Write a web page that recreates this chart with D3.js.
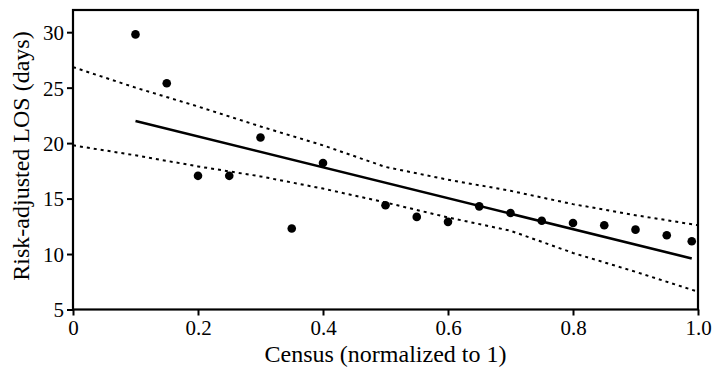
<!DOCTYPE html>
<html>
<head>
<meta charset="utf-8">
<script src="https://cdn.jsdelivr.net/npm/d3@7"></script>
<style>
  body { margin: 0; background: #fff; }
  text { font-family: "Liberation Serif", "Times New Roman", serif; fill: #000; }
</style>
</head>
<body>
<script>
// census (normalized) vs risk-adjusted LOS
const census = [0.1, 0.15, 0.2, 0.25, 0.3, 0.35, 0.4, 0.5, 0.55, 0.6, 0.65, 0.7, 0.75, 0.8, 0.85, 0.9, 0.95, 0.99];
const los = [29.8, 25.4, 17.05, 17.05, 20.5, 12.3, 18.2, 14.4, 13.35, 12.9, 14.3, 13.7, 13.0, 12.8, 12.6, 12.2, 11.7, 11.15];

// regression line endpoints
const fitX = [0.1, 0.99];
const fitY = [22.0, 9.6];

// confidence band
const bandX = [0, 0.1, 0.2, 0.3, 0.4, 0.5, 0.6, 0.7, 0.8, 0.9, 1.0];
const upperY = [26.85, 25.0, 23.3, 21.5, 19.8, 17.85, 16.7, 15.7, 14.5, 13.5, 12.6];
const lowerY = [19.8, 18.9, 17.9, 17.0, 15.9, 14.65, 13.3, 12.1, 10.1, 8.4, 6.6];

const xTicks = [0, 0.2, 0.4, 0.6, 0.8, 1.0];
const xTickLabels = ["0", "0.2", "0.4", "0.6", "0.8", "1.0"];
const yTicks = [5, 10, 15, 20, 25, 30];

const w = 713;
const h = 368;
const pLeft = 73, pRight = 698, pTop = 10, pBottom = 309.5;

const xScale = d3.scaleLinear().domain([0, 1]).range([pLeft, pRight]);
const yScale = d3.scaleLinear().domain([5, 32]).range([pBottom, pTop]);

const svg = d3.select("body").append("svg").attr("width", w).attr("height", h);

// bands
const line = d3.line()
  .x(function (d) { return xScale(d[0]); })
  .y(function (d) { return yScale(d[1]); });

[upperY, lowerY].forEach(function (ys) {
  svg.append("path")
    .datum(bandX.map(function (x, i) { return [x, ys[i]]; }))
    .attr("d", line)
    .attr("fill", "none")
    .attr("stroke", "#000")
    .attr("stroke-width", 2)
    .attr("stroke-dasharray", "3,4");
});

// fit
svg.append("path")
  .datum(fitX.map(function (x, i) { return [x, fitY[i]]; }))
  .attr("d", line)
  .attr("fill", "none")
  .attr("stroke", "#000")
  .attr("stroke-width", 2.6);

// points
svg.selectAll("circle")
  .data(census)
  .enter()
  .append("circle")
  .attr("cx", function (d) { return xScale(d); })
  .attr("cy", function (d, i) { return yScale(los[i]); })
  .attr("r", 4.3)
  .attr("fill", "#000");

// axes
const xAxis = svg.append("g")
  .attr("transform", "translate(0," + pBottom + ")")
  .call(d3.axisBottom(xScale).tickValues(xTicks)
    .tickFormat(function (d, i) { return xTickLabels[i]; })
    .tickSize(6).tickPadding(5));

const yAxis = svg.append("g")
  .attr("transform", "translate(" + pLeft + ",0)")
  .call(d3.axisLeft(yScale).tickValues(yTicks).tickSize(6).tickPadding(3));

[xAxis, yAxis].forEach(function (g) {
  g.select(".domain").remove();
  g.selectAll(".tick line").attr("stroke", "#000").attr("stroke-width", 2);
  g.selectAll(".tick text")
    .attr("font-family", "Liberation Serif, serif")
    .attr("font-size", 21)
    .attr("fill", "#000");
});
yAxis.selectAll(".tick text").attr("dy", "0.35em");

// frame
svg.append("rect")
  .attr("x", pLeft)
  .attr("y", pTop)
  .attr("width", pRight - pLeft)
  .attr("height", pBottom - pTop)
  .attr("fill", "none")
  .attr("stroke", "#000")
  .attr("stroke-width", 2.2);

// titles
svg.append("text")
  .attr("x", (pLeft + pRight) / 2)
  .attr("y", 362)
  .attr("text-anchor", "middle")
  .attr("font-size", 24)
  .text("Census (normalized to 1)");

svg.append("text")
  .attr("transform", "translate(29,156) rotate(-90)")
  .attr("text-anchor", "middle")
  .attr("font-size", 24)
  .text("Risk-adjusted LOS (days)");
</script>
</body>
</html>
